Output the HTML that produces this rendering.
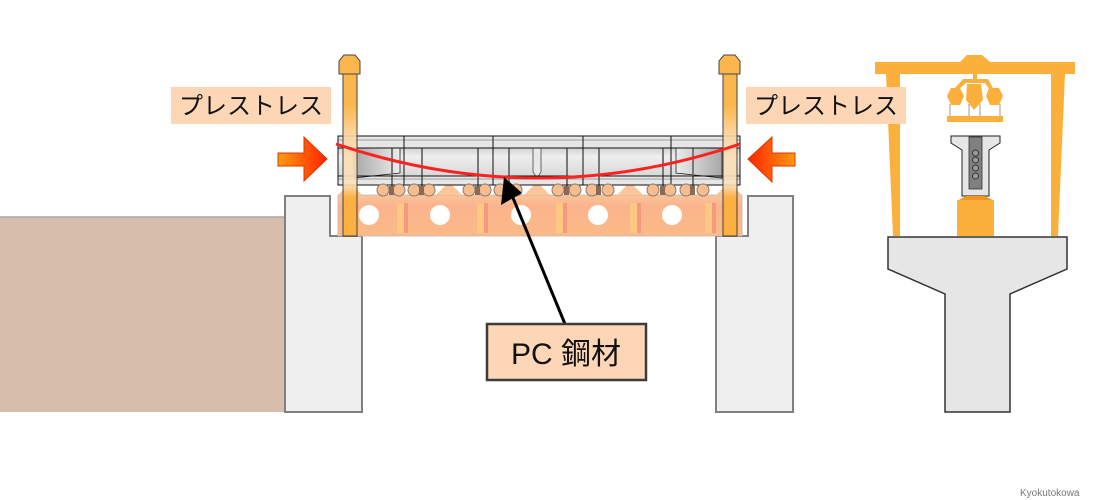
<!DOCTYPE html>
<html><head><meta charset="utf-8"><style>
html,body{margin:0;padding:0;background:#fff;}
svg{display:block;}
text{font-family:"Liberation Sans","Noto Sans CJK JP",sans-serif;}
</style></head><body>
<svg width="1100" height="500" viewBox="0 0 1100 500" xmlns="http://www.w3.org/2000/svg">
<defs>
<linearGradient id="arrL" x1="0" y1="0" x2="1" y2="0"><stop offset="0" stop-color="#ff9a10"/><stop offset="1" stop-color="#ff2200"/></linearGradient>
<linearGradient id="arrR" x1="1" y1="0" x2="0" y2="0"><stop offset="0" stop-color="#ff9a10"/><stop offset="1" stop-color="#ff2200"/></linearGradient>
<linearGradient id="web" x1="0" y1="0" x2="0" y2="1"><stop offset="0" stop-color="#d2d2d2"/><stop offset="0.3" stop-color="#eeeeee"/><stop offset="1" stop-color="#d8d8d8"/></linearGradient>
<linearGradient id="endL" x1="0" y1="0" x2="1" y2="0"><stop offset="0" stop-color="#a8a8a8"/><stop offset="1" stop-color="#ececec"/></linearGradient>
<linearGradient id="endR" x1="1" y1="0" x2="0" y2="0"><stop offset="0" stop-color="#a8a8a8"/><stop offset="1" stop-color="#ececec"/></linearGradient>
<linearGradient id="pole" x1="0" y1="0" x2="0" y2="1"><stop offset="0" stop-color="#fbb03b"/><stop offset="0.25" stop-color="#fbb03b"/><stop offset="0.45" stop-color="#fcd9a8"/><stop offset="0.7" stop-color="#fbe2c0"/><stop offset="0.78" stop-color="#fbb03b"/><stop offset="1" stop-color="#fbb03b"/></linearGradient>
<linearGradient id="base" x1="0" y1="0" x2="0" y2="1"><stop offset="0" stop-color="#fcc398"/><stop offset="0.3" stop-color="#fbb38c"/><stop offset="1" stop-color="#fbba86"/></linearGradient>
</defs>

<!-- ground -->
<rect x="0" y="217" width="285" height="195" fill="#d6bdac"/>
<line x1="0" y1="217" x2="285" y2="217" stroke="#a8a8a8" stroke-width="1.5"/>

<!-- abutments -->
<polygon points="285,196 330,196 330,236 362,236 362,412 285,412" fill="#efefef" stroke="#808080" stroke-width="2"/>
<polygon points="748,196 793,196 793,412 716,412 716,236 748,236" fill="#efefef" stroke="#808080" stroke-width="2"/>

<!-- base (falsework) -->
<rect x="338" y="195" width="404" height="41" fill="url(#base)" stroke="#bbb" stroke-width="0.8"/>
<g fill="#fcc882">
<rect x="397" y="203" width="7" height="30"/><rect x="477" y="203" width="7" height="30"/><rect x="556" y="203" width="7" height="30"/><rect x="630" y="203" width="7" height="30"/><rect x="705" y="203" width="7" height="30"/>
</g>
<g fill="#f39a80">
<rect x="404" y="203" width="4" height="30"/><rect x="484" y="203" width="4" height="30"/><rect x="563" y="203" width="4" height="30"/><rect x="637" y="203" width="4" height="30"/><rect x="712" y="203" width="4" height="30"/>
</g>
<g fill="#fff">
<circle cx="369" cy="215" r="10"/><circle cx="440" cy="215" r="10"/><circle cx="521" cy="215" r="10"/><circle cx="598" cy="215" r="10"/><circle cx="672" cy="215" r="10"/>
</g>
<!-- triangles -->
<g fill="#fbc59a">
<polygon points="338,195 350,182 362,195"/><polygon points="436,195 449,182 462,195"/><polygon points="524,195 537,182 550,195"/><polygon points="617,195 630,182 643,195"/><polygon points="716,195 729,182 742,195"/>
</g>

<!-- girder -->
<rect x="338" y="136" width="402" height="49" fill="#e6e6e6" stroke="#111" stroke-width="1"/>
<rect x="338" y="148" width="402" height="28" fill="url(#web)"/>
<polygon points="354,148 400,148 400,173 354,178" fill="url(#endL)" stroke="#222" stroke-width="0.8"/>
<polygon points="722,148 676,148 676,173 722,178" fill="url(#endR)" stroke="#222" stroke-width="0.8"/>
<g stroke="#777" stroke-width="2">
<line x1="392" y1="148" x2="392" y2="192"/><line x1="422" y1="148" x2="422" y2="192"/><line x1="478" y1="148" x2="478" y2="192"/><line x1="509" y1="148" x2="509" y2="192"/><line x1="567" y1="148" x2="567" y2="192"/><line x1="599" y1="148" x2="599" y2="192"/><line x1="663" y1="148" x2="663" y2="192"/><line x1="693" y1="148" x2="693" y2="192"/>
</g>
<polygon points="533,148 541,148 541,172 537,178 533,172" fill="#e8e8e8" stroke="#666" stroke-width="1"/>
<g stroke="#111" stroke-width="1" fill="none">
<line x1="338" y1="140" x2="740" y2="140" stroke="#555" stroke-width="0.6"/>
<line x1="338" y1="148" x2="740" y2="148"/>
<line x1="338" y1="176" x2="740" y2="176"/>
<line x1="338" y1="179" x2="740" y2="179" stroke="#555" stroke-width="0.6"/>
<line x1="404" y1="136" x2="404" y2="185"/><line x1="493" y1="136" x2="493" y2="185"/><line x1="583" y1="136" x2="583" y2="185"/><line x1="671" y1="136" x2="671" y2="185"/>
</g>
<rect x="338" y="136" width="402" height="49" fill="none" stroke="#111" stroke-width="1"/>

<!-- rollers -->
<g fill="#f7bd8e" stroke="#8a7a70" stroke-width="1">
<circle cx="383" cy="190" r="6"/><circle cx="399" cy="190" r="6"/><circle cx="414" cy="190" r="6"/><circle cx="429" cy="190" r="6"/>
<circle cx="469" cy="190" r="6"/><circle cx="485" cy="190" r="6"/><circle cx="500" cy="190" r="6"/><circle cx="516" cy="190" r="6"/>
<circle cx="558" cy="190" r="6"/><circle cx="575" cy="190" r="6"/><circle cx="592" cy="190" r="6"/><circle cx="608" cy="190" r="6"/>
<circle cx="653" cy="190" r="6"/><circle cx="670" cy="190" r="6"/><circle cx="686" cy="190" r="6"/><circle cx="703" cy="190" r="6"/>
</g>
<g fill="#8a6a55">
<rect x="389" y="186" width="5" height="9"/><rect x="419" y="186" width="5" height="9"/><rect x="475" y="186" width="5" height="9"/><rect x="506" y="186" width="5" height="9"/><rect x="564" y="186" width="5" height="9"/><rect x="596" y="186" width="5" height="9"/><rect x="660" y="186" width="5" height="9"/><rect x="690" y="186" width="5" height="9"/>
</g>

<!-- jacks -->
<g opacity="0.9">
<rect x="343" y="62" width="14" height="174" fill="url(#pole)" stroke="#333" stroke-width="1"/>
<polygon points="344,55 355,55 360,61 360,74 339,74 339,61" fill="#fbb03b" stroke="#333" stroke-width="1"/>
<rect x="723" y="62" width="14" height="174" fill="url(#pole)" stroke="#333" stroke-width="1"/>
<polygon points="724,55 735,55 740,61 740,74 719,74 719,61" fill="#fbb03b" stroke="#333" stroke-width="1"/>
</g>

<!-- PC cable -->
<path d="M336,144 Q538,212 740,144" fill="none" stroke="#ff2020" stroke-width="3"/>

<!-- arrows -->
<polygon points="278,153 304,153 304,137 327,159 304,181 304,166 278,166" fill="url(#arrL)" stroke="#d43a00" stroke-width="1"/>
<polygon points="795,153 772,153 772,137 748,159 772,182 772,166 795,166" fill="url(#arrR)" stroke="#d43a00" stroke-width="1"/>

<!-- gantry -->
<g fill="#fbb03b">
<rect x="875" y="62" width="200" height="12"/>
<polygon points="960,62 967,55 982,55 990,62"/>
<polygon points="886,74 900,74 900,236 893,236"/>
<polygon points="1051,74 1065,74 1058,236 1051,236"/>
<rect x="973" y="73" width="4" height="8"/>
<polygon points="963,79 988,79 993,88 990,90 985,83 966,83 958,90 955,88"/>
<polygon points="951,88 960,88 964,96 960,105 951,105 947,96"/>
<polygon points="967,84 981,84 983,100 974,110 966,100"/>
<polygon points="989,88 999,88 1003,96 999,105 990,105 986,96"/>
<rect x="947" y="116" width="56" height="6"/>
</g>
<g stroke="#999" stroke-width="1">
<line x1="950" y1="104" x2="950" y2="116"/><line x1="969" y1="104" x2="969" y2="116"/><line x1="980" y1="104" x2="980" y2="116"/><line x1="1000" y1="104" x2="1000" y2="116"/>
</g>
<!-- T girder -->
<polygon points="951,136 1000,136 1000,143 989,150 989,196 962,196 962,150 951,143" fill="#e6e6e6" stroke="#222" stroke-width="1"/>
<rect x="969" y="137" width="13" height="52" fill="#808080" stroke="#333" stroke-width="0.8"/>
<g fill="#999" stroke="#222" stroke-width="0.8">
<circle cx="975.5" cy="153" r="3"/><circle cx="975.5" cy="160" r="3"/><circle cx="975.5" cy="168" r="3"/><circle cx="975.5" cy="176" r="3"/>
</g>
<polygon points="966,196 985,196 994,201 957,201" fill="#f7931e"/>
<rect x="957" y="200" width="37" height="36" fill="#fbb03b"/>

<!-- pier -->
<polygon points="888,237 1067,237 1067,269 1010,294 1010,412 945,412 945,294 888,269" fill="#e6e6e6" stroke="#333" stroke-width="1.5"/>

<!-- labels -->
<rect x="171" y="87" width="160" height="37" fill="#fcd6b5"/>
<text x="251" y="114" font-size="24" text-anchor="middle" fill="#111">プレストレス</text>
<rect x="746" y="87" width="160" height="37" fill="#fcd6b5"/>
<text x="826" y="114" font-size="24" text-anchor="middle" fill="#111">プレストレス</text>

<!-- pointer arrow -->
<line x1="565" y1="324" x2="511" y2="193" stroke="#000" stroke-width="3"/>
<polygon points="504,177 522,193 501,205" fill="#000"/>

<!-- PC box -->
<rect x="487" y="324" width="159" height="56" fill="#fcd6b5" stroke="#3c3c3c" stroke-width="2.5"/>
<text x="566" y="364" font-size="30" text-anchor="middle" fill="#111">PC 鋼材</text>

<text x="1020" y="496" font-size="10" fill="#777">Kyokutokowa</text>
</svg>
</body></html>
